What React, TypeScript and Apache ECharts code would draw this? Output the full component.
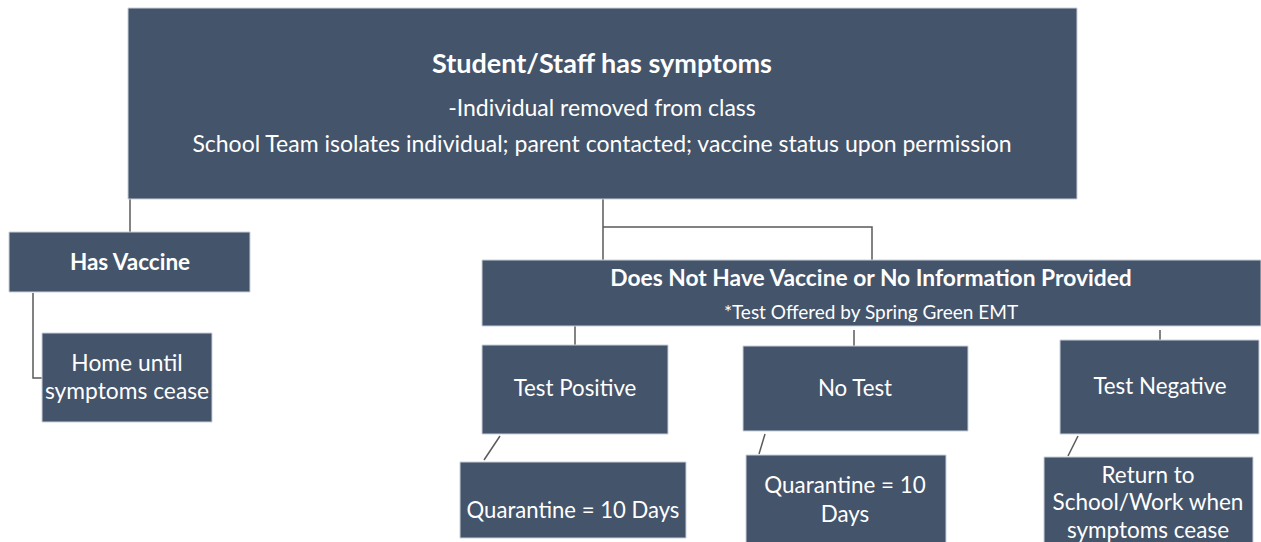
import React, { useEffect, useRef } from "react";
import * as echarts from "echarts";

// Node texts (first line may be bold title)
const nodeIds = ["root", "vax", "home", "novax", "pos", "notest", "neg", "q1", "q2", "ret"];
const nodeTitles = [
  "Student/Staff has symptoms",
  "Has Vaccine",
  "",
  "Does Not Have Vaccine or No Information Provided",
  "",
  "",
  "",
  "",
  "",
  "",
];
const nodeLines = [
  ["-Individual removed from class", "School Team isolates individual; parent contacted; vaccine status upon permission"],
  [],
  ["Home until", "symptoms cease"],
  ["*Test Offered by Spring Green EMT"],
  ["Test Positive"],
  ["No Test"],
  ["Test Negative"],
  ["Quarantine = 10 Days"],
  ["Quarantine = 10", "Days"],
  ["Return to", "School/Work when", "symptoms cease"],
];

// Layout (x, y, w, h)
const boxes: number[][] = [
  [128, 8, 949, 191],
  [9, 232, 241, 60],
  [42, 333, 170, 89],
  [482, 260, 779, 66],
  [482, 345, 186, 89],
  [743, 346, 225, 85],
  [1060, 340, 199, 94],
  [460, 462, 226, 76],
  [746, 455, 200, 95],
  [1044, 457, 209, 95],
];
// text anchor positions: [cx, titleY, firstLineY, lineGap]
const textPos: number[][] = [
  [602, 62, 107, 36],
  [130, 261, 0, 0],
  [127, 362, 362, 28],
  [871, 277, 311, 0],
  [575, 387, 387, 0],
  [855, 387, 387, 0],
  [1160, 385, 385, 0],
  [573, 509, 509, 0],
  [845, 484, 484, 29],
  [1148, 474, 474, 27.5],
];
const titleSizes = [27, 22.5, 0, 22.8, 0, 0, 0, 0, 0, 0];
const lineSizes = [23, 0, 22.8, 19, 22.3, 22.3, 22.3, 22.1, 22.4, 22.5];

// Connector polylines
const connectors: number[][][] = [
  [[130, 199], [130, 232]],
  [[33, 293], [33, 378], [42, 378]],
  [[603, 199], [603, 260]],
  [[603, 227], [872, 227], [872, 260]],
  [[575, 326], [575, 345]],
  [[854, 330], [854, 346]],
  [[1160, 330], [1160, 340]],
  [[500, 436], [484, 460]],
  [[765, 434], [759, 454]],
  [[1078, 436], [1068, 456]],
];

const FILL = "#44546a";
const FONT = "Lato";

export default function App() {
  const ref = useRef<HTMLDivElement>(null);
  useEffect(() => {
    if (!ref.current) return;
    const chart = echarts.init(ref.current, undefined, { renderer: "svg" });
    const elements: any[] = [];
    connectors.forEach((pts) => {
      elements.push({
        type: "polyline",
        shape: { points: pts },
        style: { stroke: "#5a5a5a", lineWidth: 1.5, fill: null },
        z: 1,
      });
    });
    boxes.forEach((b, i) => {
      elements.push({
        type: "rect",
        shape: { x: b[0], y: b[1], width: b[2], height: b[3] },
        style: { fill: FILL, stroke: "#c9d0da", lineWidth: 1 },
        z: 2,
      });
      const tp = textPos[i];
      if (nodeTitles[i]) {
        elements.push({
          type: "text",
          x: tp[0],
          y: tp[1],
          style: {
            text: nodeTitles[i],
            fill: "#ffffff",
            font: `bold ${titleSizes[i]}px "${FONT}"`,
            textAlign: "center",
            textVerticalAlign: "middle",
          },
          z: 3,
        });
      }
      nodeLines[i].forEach((ln, j) => {
        elements.push({
          type: "text",
          x: tp[0],
          y: tp[2] + j * tp[3],
          style: {
            text: ln,
            fill: "#ffffff",
            font: `${lineSizes[i]}px "${FONT}"`,
            textAlign: "center",
            textVerticalAlign: "middle",
          },
          z: 3,
        });
      });
    });
    chart.setOption({
      animation: false,
      backgroundColor: "#ffffff",
      graphic: { elements },
    });
    return () => chart.dispose();
  }, []);
  return (
    <div
      ref={ref}
      style={{ position: "fixed", left: 0, top: 0, width: 1261, height: 542 }}
    />
  );
}
